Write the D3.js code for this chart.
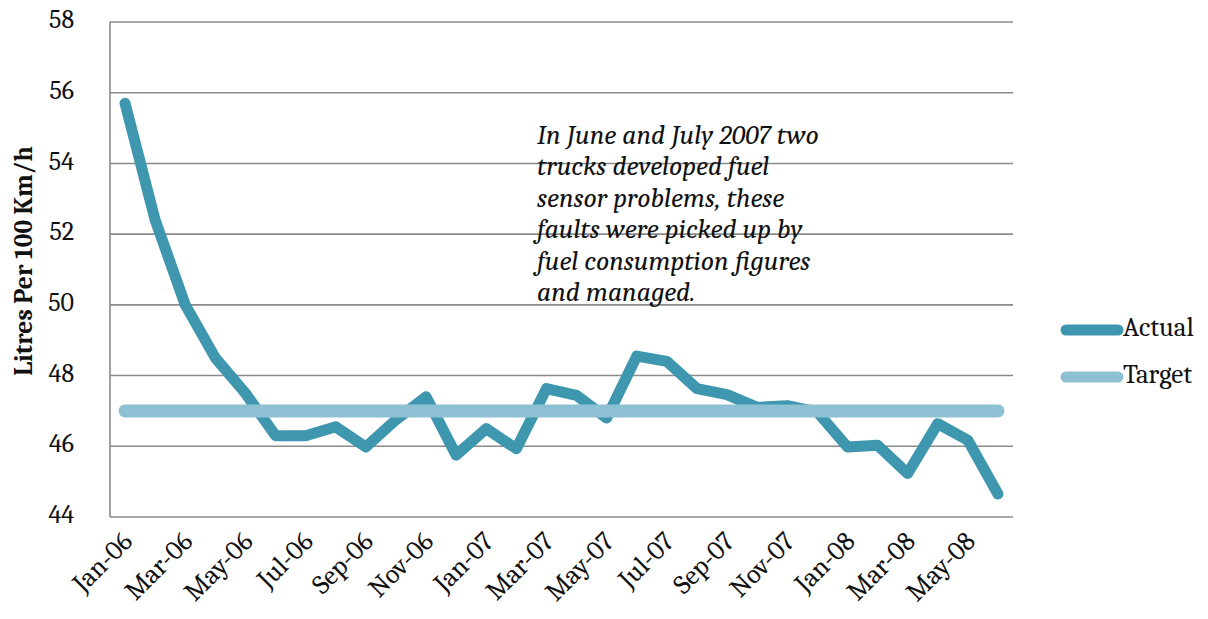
<!DOCTYPE html>
<html>
<head>
<meta charset="utf-8">
<script src="https://cdn.jsdelivr.net/npm/d3@7"></script>
<style>
  html, body { margin: 0; padding: 0; background: #fff; }
  svg { display: block; font-family: Cambria, "Liberation Serif", "DejaVu Serif", serif; }
</style>
</head>
<body>
<div id="chart"></div>
<script>
// monthly fuel consumption, Jan-06 .. Jun-08
const months = [
  "Jan-06", "Feb-06", "Mar-06", "Apr-06", "May-06", "Jun-06",
  "Jul-06", "Aug-06", "Sep-06", "Oct-06", "Nov-06", "Dec-06",
  "Jan-07", "Feb-07", "Mar-07", "Apr-07", "May-07", "Jun-07",
  "Jul-07", "Aug-07", "Sep-07", "Oct-07", "Nov-07", "Dec-07",
  "Jan-08", "Feb-08", "Mar-08", "Apr-08", "May-08", "Jun-08"
];
const actual = [
  55.7, 52.4, 50.0, 48.5, 47.5, 46.3,
  46.3, 46.55, 45.98, 46.75, 47.4, 45.75,
  46.5, 45.93, 47.63, 47.44, 46.8, 48.55,
  48.4, 47.63, 47.46, 47.1, 47.15, 46.97,
  45.98, 46.03, 45.23, 46.64, 46.17, 44.65
];
const target = months.map(() => 47);
const yTicks = [44, 46, 48, 50, 52, 54, 56, 58];
const note = [
  "In June and July 2007 two",
  "trucks developed fuel",
  "sensor problems, these",
  "faults were picked up by",
  "fuel consumption figures",
  "and managed."
];

const width = 1208, height = 619;
const plotLeft = 110, plotRight = 1013, plotTop = 22, plotBottom = 517;
const actualColor = "#3f96af";
const targetColor = "#8ec0d3";

const svg = d3.select("#chart").append("svg")
  .attr("width", width)
  .attr("height", height);

const x = d3.scalePoint().domain(months).range([plotLeft, plotRight]).padding(0.5);
const y = d3.scaleLinear().domain([44, 58]).range([plotBottom, plotTop]);

// gridlines
svg.append("g")
  .selectAll("line")
  .data(yTicks)
  .join("line")
  .attr("x1", plotLeft)
  .attr("x2", plotRight)
  .attr("y1", d => y(d))
  .attr("y2", d => y(d))
  .attr("stroke", "#8a8a8a")
  .attr("stroke-width", 1.6);

// y axis line
svg.append("line")
  .attr("x1", plotLeft).attr("x2", plotLeft)
  .attr("y1", plotTop).attr("y2", plotBottom)
  .attr("stroke", "#8a8a8a")
  .attr("stroke-width", 1.6);

// y tick labels
svg.append("g")
  .selectAll("text")
  .data(yTicks)
  .join("text")
  .attr("x", 74)
  .attr("y", d => y(d))
  .attr("text-anchor", "end")
  .attr("dominant-baseline", "middle")
  .attr("font-size", "26px")
  .attr("fill", "#111")
  .text(d => d);

// x labels, every other month
svg.append("g")
  .selectAll("text")
  .data(months.filter((d, i) => i % 2 === 0))
  .join("text")
  .attr("transform", d => `translate(${x(d) + 9},${543}) rotate(-45)`)
  .attr("text-anchor", "end")
  .attr("font-size", "27px")
  .attr("fill", "#111")
  .text(d => d);

// y title
svg.append("text")
  .attr("transform", "translate(32,261) rotate(-90)")
  .attr("text-anchor", "middle")
  .attr("font-size", "25.5px")
  .attr("font-weight", "bold")
  .attr("fill", "#111")
  .text("Litres Per 100 Km/h");

const line = d3.line()
  .x((d, i) => x(months[i]))
  .y(d => y(d));

svg.append("path")
  .datum(actual)
  .attr("d", line)
  .attr("fill", "none")
  .attr("stroke", actualColor)
  .attr("stroke-width", 11)
  .attr("stroke-linejoin", "round")
  .attr("stroke-linecap", "round");

svg.append("path")
  .datum(target)
  .attr("d", line)
  .attr("fill", "none")
  .attr("stroke", targetColor)
  .attr("stroke-width", 13)
  .attr("stroke-linecap", "round");

// annotation
svg.append("g")
  .selectAll("text")
  .data(note)
  .join("text")
  .attr("x", 537)
  .attr("y", (d, i) => 144 + i * 31.4)
  .attr("font-size", "27.5px")
  .attr("font-style", "italic")
  .attr("fill", "#111")
  .text(d => d);

// legend
const legend = svg.append("g")
  .selectAll("g")
  .data([["Actual", actualColor, 330], ["Target", targetColor, 377]])
  .join("g");

legend.append("line")
  .attr("x1", 1066).attr("x2", 1118)
  .attr("y1", d => d[2]).attr("y2", d => d[2])
  .attr("stroke", d => d[1])
  .attr("stroke-width", 11)
  .attr("stroke-linecap", "round");

legend.append("text")
  .attr("x", 1123)
  .attr("y", d => d[2])
  .attr("dominant-baseline", "middle")
  .attr("font-size", "27px")
  .attr("fill", "#111")
  .text(d => d[0]);
</script>
</body>
</html>
